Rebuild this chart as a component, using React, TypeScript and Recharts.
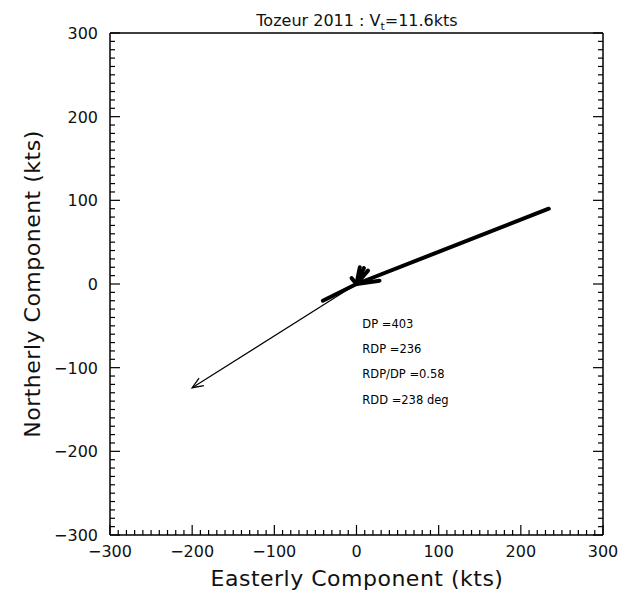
import React from "react";
import {
  ScatterChart,
  Scatter,
  XAxis,
  YAxis,
  ReferenceDot,
  Customized,
} from "recharts";

// sand rose rays (end points of each ray from the origin, kts)
const rayEast = [234, -41, 28, 14, 9, 4, -6];
const rayNorth = [90, -20, 4, 16, 19, 20, 7];

// resultant drift vector
const resultantEast = -200;
const resultantNorth = -124;

const majorTicks = [-300, -200, -100, 0, 100, 200, 300];
const minorPerMajor = 10;

const noteLabels = ["DP =403", "RDP =236", "RDP/DP =0.58", "RDD =238 deg"];

const allTicks: number[] = [];
majorTicks.forEach((t, i) => {
  if (i === majorTicks.length - 1) {
    allTicks.push(t);
    return;
  }
  const step = (majorTicks[i + 1] - t) / minorPerMajor;
  for (let k = 0; k < minorPerMajor; k++) allTicks.push(t + k * step);
});

const FONT = "DejaVu Sans";

const fmt = (v: number) => (v < 0 ? "\u2212" + Math.abs(v) : String(v));

const EdgeTick = (props: any) => {
  const { x, y, payload, side } = props;
  const v = payload.value;
  const major = majorTicks.includes(v);
  const len = major ? 10 : 5;
  let x2 = x;
  let y2 = y;
  if (side === "bottom") y2 = y - len;
  if (side === "top") y2 = y + len;
  if (side === "left") x2 = x + len;
  if (side === "right") x2 = x - len;
  return (
    <g>
      <line x1={x} y1={y} x2={x2} y2={y2} stroke="#000" strokeWidth={1.2} />
      {major && side === "bottom" && (
        <text x={x} y={y + 22} textAnchor="middle" fontSize={16} fontFamily={FONT} fill="#111">
          {fmt(v)}
        </text>
      )}
      {major && side === "left" && (
        <text x={x - 12} y={y + 6} textAnchor="end" fontSize={16} fontFamily={FONT} fill="#111">
          {fmt(v)}
        </text>
      )}
    </g>
  );
};

const Titles = () => (
  <g fontFamily={FONT} fill="#111">
    <text x={357} y={26} textAnchor="middle" fontSize={16}>
      Tozeur 2011 : V
      <tspan fontSize={11} dy={4}>t</tspan>
      <tspan dy={-4}>=11.6kts</tspan>
    </text>
    <text x={357} y={586} textAnchor="middle" fontSize={22} letterSpacing={0.5}>
      Easterly Component (kts)
    </text>
    <text
      x={40}
      y={284}
      textAnchor="middle"
      fontSize={22}
      letterSpacing={0.5}
      transform="rotate(-90 40 284)"
    >
      Northerly Component (kts)
    </text>
  </g>
);

const noteY = [-48, -78, -108, -138];

export default function App() {
  const rays = rayEast.map((u, i) => [
    { x: 0, y: 0 },
    { x: u, y: rayNorth[i] },
  ]);
  const resultant = [
    { x: 0, y: 0 },
    { x: resultantEast, y: resultantNorth },
  ];
  const axisLine = { stroke: "#000", strokeWidth: 1.5 };
  return (
    <div style={{ position: "absolute", left: 0, top: 0, background: "#fff" }}>
      <svg width={0} height={0} style={{ position: "absolute" }}>
        <defs>
          <marker
            id="arrowHead"
            viewBox="-15 -10 30 20"
            markerWidth={30}
            markerHeight={20}
            refX={0}
            refY={0}
            orient="auto"
            markerUnits="userSpaceOnUse"
          >
            <path d="M -11 -4.5 L 0 0 L -11 4.5" fill="none" stroke="#000" strokeWidth={1.3} />
          </marker>
        </defs>
      </svg>
      <ScatterChart width={643} height={593} margin={{ top: 0, right: 0, bottom: 0, left: 0 }}>
        <XAxis
          type="number"
          dataKey="x"
          domain={[-300, 300]}
          ticks={allTicks}
          interval={0}
          allowDataOverflow
          height={58}
          tickSize={0}
          tickMargin={0}
          axisLine={axisLine}
          tickLine={false}
          tick={<EdgeTick side="bottom" />}
        />
        <XAxis
          xAxisId="top"
          orientation="top"
          type="number"
          domain={[-300, 300]}
          ticks={allTicks}
          interval={0}
          allowDataOverflow
          height={33}
          tickSize={0}
          tickMargin={0}
          axisLine={axisLine}
          tickLine={false}
          tick={<EdgeTick side="top" />}
        />
        <YAxis
          type="number"
          dataKey="y"
          domain={[-300, 300]}
          ticks={allTicks}
          interval={0}
          allowDataOverflow
          width={110}
          tickSize={0}
          tickMargin={0}
          axisLine={axisLine}
          tickLine={false}
          tick={<EdgeTick side="left" />}
        />
        <YAxis
          yAxisId="right"
          orientation="right"
          type="number"
          domain={[-300, 300]}
          ticks={allTicks}
          interval={0}
          allowDataOverflow
          width={40}
          tickSize={0}
          tickMargin={0}
          axisLine={axisLine}
          tickLine={false}
          tick={<EdgeTick side="right" />}
        />
        <Scatter
          data={resultant}
          line={{ stroke: "#000", strokeWidth: 1.2, markerEnd: "url(#arrowHead)" }}
          shape={() => <g />}
          isAnimationActive={false}
        />
        {rays.map((d, i) => (
          <Scatter
            key={i}
            data={d}
            line={{ stroke: "#000", strokeWidth: 4, strokeLinecap: "round" }}
            shape={() => <g />}
            isAnimationActive={false}
          />
        ))}
        {noteLabels.map((t, i) => (
          <ReferenceDot
            key={t}
            x={1}
            y={noteY[i]}
            r={0}
            fill="none"
            stroke="none"
            label={{ value: t, position: "right", offset: 5, fill: "#000", fontSize: 11.5, fontFamily: FONT }}
          />
        ))}
        <Customized component={Titles} />
      </ScatterChart>
    </div>
  );
}
